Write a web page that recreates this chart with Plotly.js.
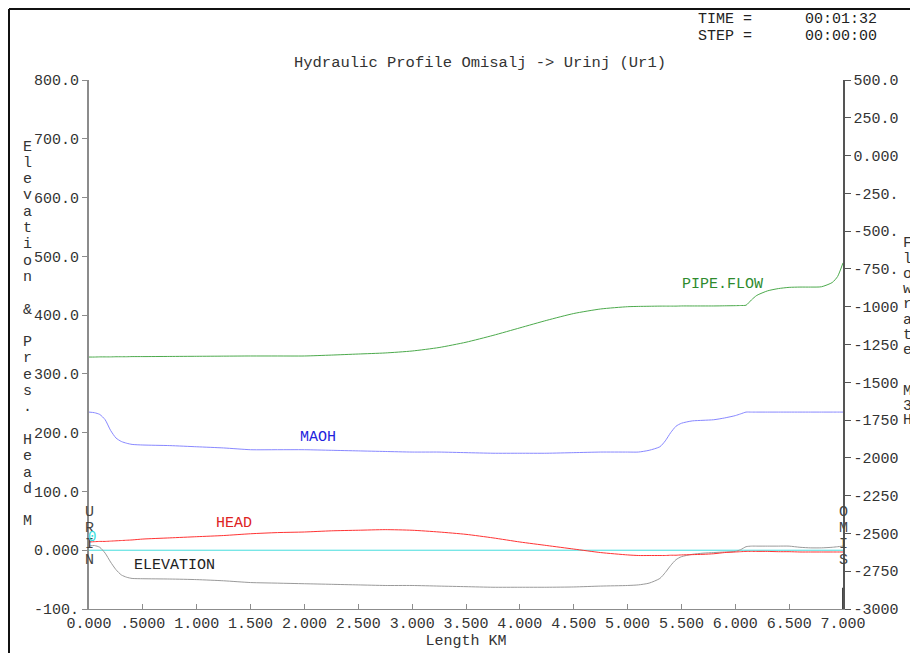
<!DOCTYPE html>
<html>
<head>
<meta charset="utf-8">
<script src="https://cdn.plot.ly/plotly-3.0.1.min.js"></script>
<style>
html,body{margin:0;padding:0;background:#fff;}
#chart{width:910px;height:653px;}
</style>
</head>
<body>
<div id="chart"></div>
<script>
// ---- data ----
var km = [0, 0.05, 0.1, 0.15, 0.2, 0.25, 0.3, 0.35, 0.4, 0.5, 0.75, 1.0, 1.25, 1.5, 1.75, 2.0, 2.25, 2.5, 2.75, 3.0, 3.25, 3.5, 3.75, 4.0, 4.25, 4.5, 4.75, 5.0, 5.1, 5.2, 5.3, 5.35, 5.4, 5.45, 5.5, 5.6, 5.7, 5.8, 5.9, 6.0, 6.05, 6.1, 6.15, 6.2, 6.3, 6.4, 6.5, 6.6, 6.7, 6.8, 6.9, 6.95, 7.0];

var elevation = [7, 8, 5, -5, -20, -33, -42, -46, -48, -48.5, -49, -50, -52, -55, -56, -57, -58, -59, -60, -60, -61, -62, -63, -63, -63, -62.5, -61, -60, -59, -56, -48, -38, -26, -16, -11, -7, -5, -4, -3, -2, 1, 6, 7, 7, 7, 7, 7, 5, 4, 4, 5, 6, 7];

var maoh = [235, 234, 231, 222, 204, 191, 185, 182, 180, 179, 178, 176, 174, 171, 171, 171, 170, 169, 168, 167, 167, 166, 165, 165, 165, 166, 167, 167, 167, 170, 176, 186, 200, 211, 216, 220, 221, 222, 225, 229, 232, 235, 235, 235, 235, 235, 235, 235, 235, 235, 235, 235, 235];

var head = [14, 14.5, 15, 15, 15.5, 16, 16.5, 17, 17.5, 19, 21, 23, 25, 28, 30, 31, 33, 34, 35, 34, 31, 27, 21, 14, 8, 2, -4, -8, -9, -9, -9, -9, -8.5, -8.5, -8, -7.5, -7, -6, -4, -3, -2.5, -2, -2, -2, -2, -2.5, -2.5, -3, -3, -3, -3, -3, -3];

var pipeFlow = [-1333, -1333, -1332, -1332, -1332, -1331, -1331, -1331, -1330, -1330, -1329, -1328, -1327, -1326, -1326, -1326, -1320, -1313, -1306, -1293, -1270, -1235, -1190, -1140, -1090, -1045, -1015, -1000, -998, -997, -996, -996, -996, -996, -995, -995, -995, -995, -994, -993, -992, -990, -955, -925, -895, -880, -872, -870, -870, -868, -840, -800, -710];

var zeroX = [0, 7];
var zeroY = [0, 0];

var xTickVals = [0, 0.5, 1, 1.5, 2, 2.5, 3, 3.5, 4, 4.5, 5, 5.5, 6, 6.5, 7];
var xTickText = ["0.000", ".5000", "1.000", "1.500", "2.000", "2.500", "3.000", "3.500", "4.000", "4.500", "5.000", "5.500", "6.000", "6.500", "7.000"];
var yTickVals = [-100, 0, 100, 200, 300, 400, 500, 600, 700, 800];
var yTickText = ["-100.", "0.000", "100.0", "200.0", "300.0", "400.0", "500.0", "600.0", "700.0", "800.0"];
var y2TickVals = [500, 250, 0, -250, -500, -750, -1000, -1250, -1500, -1750, -2000, -2250, -2500, -2750, -3000];
var y2TickText = ["500.0", "250.0", "0.000", "-250.", "-500.", "-750.", "-1000", "-1250", "-1500", "-1750", "-2000", "-2250", "-2500", "-2750", "-3000"];

var markerX = [7, 7];
var markerY2 = [-3000, -2860];

// ---- layout helpers ----
var W = 910, H = 653, L = 89, R = 843, T = 80, B = 609;
function px(x){ return (x - L) / (R - L); }
function py(y){ return (B - y) / (B - T); }
var FONT = "Liberation Mono, Courier New, monospace";

var annotations = [];
function addText(text, x, y, color, size, xanchor){
  annotations.push({text: text, xref: 'paper', yref: 'paper', x: px(x), y: py(y),
    xanchor: xanchor || 'center', yanchor: 'middle', showarrow: false,
    font: {family: FONT, size: size || 15, color: color || '#333'}});
}
function addVertical(str, x, y0, step, color, size){
  for (var i = 0; i < str.length; i++){
    if (str[i] === ' ') continue;
    addText(str[i], x, y0 + i * step, color, size);
  }
}

addText("TIME =", 696, 19, '#222', 15, 'left');
addText("STEP =", 696, 36, '#222', 15, 'left');
addText("00:01:32", 803, 19, '#222', 15, 'left');
addText("00:00:00", 803, 36, '#222', 15, 'left');

addVertical("Elevation & Pres. Head M", 27, 147, 16.3, '#333', 15);
addVertical("Flowrate", 907, 244, 15.2, '#333', 15);
addVertical("M3H", 907, 391, 15, '#333', 15);
addVertical("URIN", 89, 512, 16.3, '#444', 15);
addVertical("OMIS", 843, 512, 16.3, '#444', 15);
addText("0", 92, 537, '#33dddd', 14);

addText("PIPE.FLOW", 722, 284, '#2e8b2e', 15);
addText("MAOH", 318, 437, '#2222dd', 15);
addText("HEAD", 234, 523, '#dd2222', 15);
addText("ELEVATION", 174, 565, '#222', 15);

var traces = [
  {x: zeroX, y: zeroY, mode: 'lines', line: {color: '#44dddd', width: 1}, hoverinfo: 'skip'},
  {x: km, y: elevation, mode: 'lines', line: {color: '#9a9a9a', width: 1, shape: 'spline', smoothing: 0.6}},
  {x: km, y: maoh, mode: 'lines', line: {color: '#8888ff', width: 1, shape: 'spline', smoothing: 0.6}},
  {x: km, y: head, mode: 'lines', line: {color: '#ff3333', width: 1, shape: 'spline', smoothing: 0.6}},
  {x: km, y: pipeFlow, yaxis: 'y2', mode: 'lines', line: {color: '#4caa4c', width: 1, shape: 'spline', smoothing: 0.6}},
  {x: markerX, y: markerY2, yaxis: 'y2', mode: 'lines', line: {color: '#444', width: 2}}
];

var layout = {
  width: W, height: H,
  margin: {l: L, r: W - R, t: T, b: H - B, pad: 0},
  paper_bgcolor: '#fff', plot_bgcolor: '#fff',
  showlegend: false,
  font: {family: FONT, size: 15, color: '#333'},
  title: {text: "Hydraulic Profile Omisalj -> Urinj (Ur1)", x: 480 / W, xanchor: 'center', y: 1 - 62 / H, yanchor: 'middle', font: {family: FONT, size: 15.5, color: '#333'}},
  xaxis: {
    range: [0, 7], tickvals: xTickVals, ticktext: xTickText,
    showgrid: false, zeroline: false, showline: true, linecolor: '#8c8c8c', linewidth: 1,
    ticks: 'inside', ticklen: 5, tickcolor: '#8c8c8c',
    tickfont: {family: FONT, size: 15, color: '#333'},
    title: {text: "Length KM", font: {family: FONT, size: 15, color: '#333'}, standoff: 2}
  },
  yaxis: {
    range: [-100, 800], tickvals: yTickVals, ticktext: yTickText,
    showgrid: false, zeroline: false, showline: true, linecolor: '#8c8c8c', linewidth: 2,
    ticks: 'outside', ticklen: 5, tickcolor: '#8c8c8c',
    tickfont: {family: FONT, size: 15, color: '#333'}
  },
  yaxis2: {
    range: [-3000, 500], tickvals: y2TickVals, ticktext: y2TickText,
    overlaying: 'y', side: 'right', anchor: 'x',
    showgrid: false, zeroline: false, showline: true, linecolor: '#555', linewidth: 1.5,
    ticks: 'outside', ticklen: 6, tickcolor: '#555',
    tickfont: {family: FONT, size: 15, color: '#333'}
  },
  annotations: annotations,
  shapes: [
    {type: 'line', xref: 'paper', yref: 'paper', x0: px(9), x1: px(9), y0: py(9), y1: py(660), line: {color: '#111', width: 2}},
    {type: 'line', xref: 'paper', yref: 'paper', x0: px(9), x1: px(915), y0: py(9), y1: py(9), line: {color: '#111', width: 2}}
  ]
};

Plotly.newPlot('chart', traces, layout, {staticPlot: true, displayModeBar: false});
</script>
</body>
</html>
